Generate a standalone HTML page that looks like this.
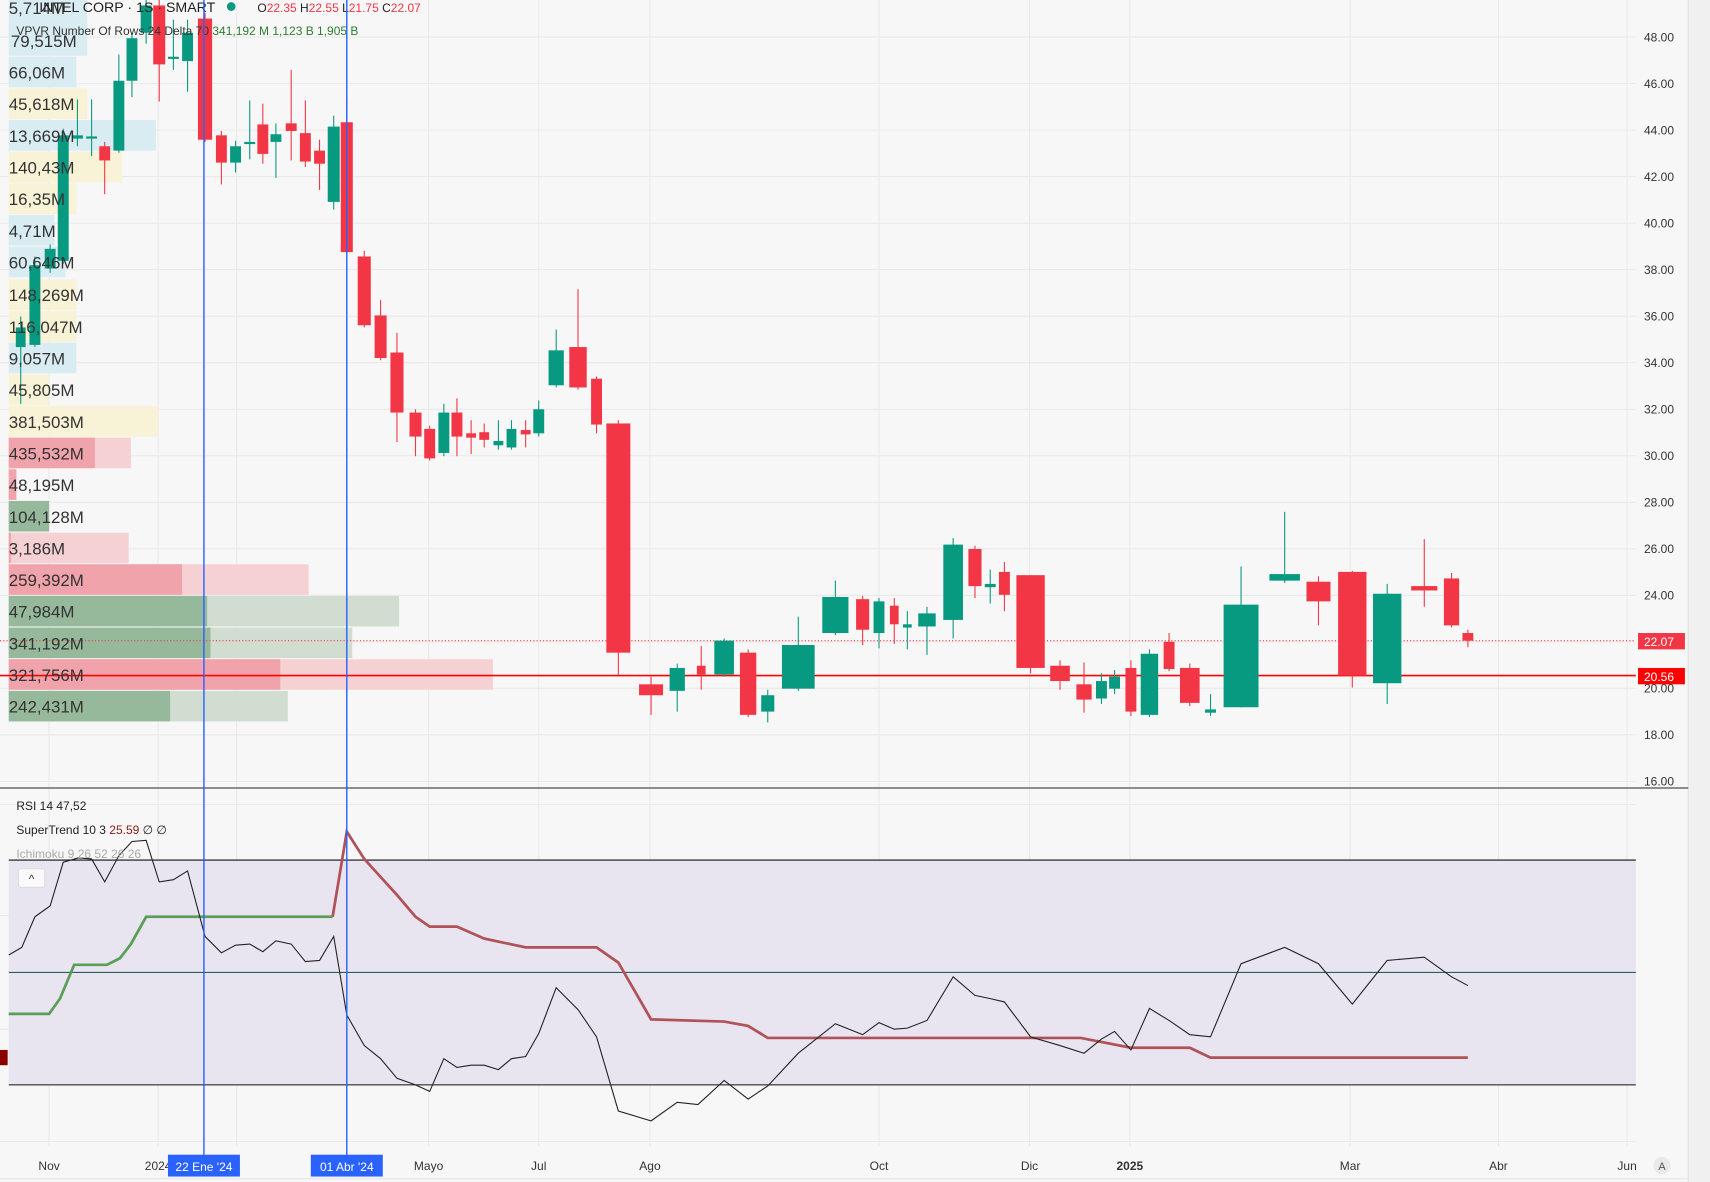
<!DOCTYPE html>
<html><head><meta charset="utf-8"><style>
html,body{margin:0;padding:0;background:#f7f7f7;overflow:hidden}
svg{display:block}
text{font-family:"Liberation Sans",sans-serif}
</style></head><body>
<svg id="s" width="1710" height="1182" viewBox="0 0 1568 1083" preserveAspectRatio="none" xmlns="http://www.w3.org/2000/svg">
<rect width="1568" height="1083" fill="#f7f7f7"/>
<rect x="1548" y="0" width="20" height="1083" fill="#f0f0f0"/>
<line x1="1548" y1="0" x2="1548" y2="1083" stroke="#e0e0e0"/>
<g id="grid" stroke="#e9e9e9" stroke-width="1"></g>
<!-- VPVR -->
<g id="vp"></g>
<!-- price lines -->
<line x1="0" y1="587" x2="1500" y2="587" stroke="#f23645" stroke-dasharray="1,2" stroke-width="1"/>
<line x1="0" y1="619" x2="1500" y2="619" stroke="#ff0000" stroke-width="1.5"/>
<g id="candles"></g>
<!-- vpvr labels -->
<g font-size="15.5" fill="#333">
<text x="8" y="13">5,714M</text>
<text x="10" y="43">79,515M</text>
<text x="8" y="72">66,06M</text>
<text x="8" y="101">45,618M</text>
<text x="8" y="130">13,669M</text>
<text x="8" y="159">140,43M</text>
<text x="8" y="188">16,35M</text>
<text x="8" y="217">4,71M</text>
<text x="8" y="246">60,646M</text>
<text x="8" y="276">148,269M</text>
<text x="8" y="305">116,047M</text>
<text x="8" y="334">9,057M</text>
<text x="8" y="363">45,805M</text>
<text x="8" y="392">381,503M</text>
<text x="8" y="421">435,532M</text>
<text x="8" y="450">48,195M</text>
<text x="8" y="479">104,128M</text>
<text x="8" y="508">3,186M</text>
<text x="8" y="537">259,392M</text>
<text x="8" y="566">47,984M</text>
<text x="8" y="595">341,192M</text>
<text x="8" y="624">321,756M</text>
<text x="8" y="653">242,431M</text>
</g>
<!-- header -->
<text x="36" y="11" font-size="13" fill="#222">INTEL CORP · 1S · SMART</text>
<circle cx="212" cy="6" r="4" fill="#089981"/>
<text x="236" y="11" font-size="11" fill="#222">O<tspan fill="#f23645">22.35</tspan> H<tspan fill="#f23645">22.55</tspan> L<tspan fill="#f23645">21.75</tspan> C<tspan fill="#f23645">22.07</tspan></text>
<text x="15" y="32" font-size="11" fill="#333">VPVR Number Of Rows 24 Delta 70 <tspan fill="#2e7d32">341,192 M  1,123 B  1,905 B</tspan></text>
<!-- price axis -->
<g font-size="11" fill="#333" text-anchor="end" id="pax"></g>
<rect x="1502" y="580" width="43" height="15" fill="#f23645"/>
<text x="1535" y="592" font-size="11" fill="#fff" text-anchor="end">22.07</text>
<rect x="1502" y="612" width="43" height="15" fill="#ff0000"/>
<text x="1535" y="624" font-size="11" fill="#fff" text-anchor="end">20.56</text>
<line x1="0" y1="722" x2="1548" y2="722" stroke="#222" stroke-width="1"/>
<!-- RSI pane -->
<rect x="8" y="788" width="1492" height="206" fill="#e8e5f0"/>
<line x1="8" y1="788" x2="1500" y2="788" stroke="#111"/>
<line x1="8" y1="994" x2="1500" y2="994" stroke="#111"/>
<line x1="8" y1="891" x2="1500" y2="891" stroke="#2a5d60"/>
<rect x="0" y="962" width="7" height="14" fill="#8b0000"/>
<polyline fill="none" stroke="#5a9e5a" stroke-width="2.5" points="8,929 45,929 55,915 68,884 98,884 110,878 120,865 134,840 305,840"/>
<polyline fill="none" stroke="#b05258" stroke-width="2.5" points="305,840 318,762 334,787 364,820 381,840 394,849 419,849 444,860 482,868 547,868 567,882 597,934 664,936 686,940 704,951 991,951 1037,960 1091,960 1110,969 1346,969"/>
<polyline fill="none" stroke="#222" stroke-width="1" points="8,875 20,868 32,840 46,830 58,790 72,786 84,787 96,808 109,784 121,771 134,770 146,808 159,806 172,798 188,858 203,873 216,866 229,865 241,872 253,862 267,865 280,881 293,880 306,858 318,930 334,958 349,970 364,988 381,994 394,1000 407,970 419,978 432,976 444,976 457,980 469,970 482,968 494,947 510,905 530,925 547,950 567,1018 597,1027 621,1010 640,1012 664,990 686,1007 704,995 732,965 766,938 791,948 806,937 820,943 832,942 850,935 874,895 894,912 908,915 921,918 945,950 972,958 994,965 1010,952 1022,945 1037,962 1054,924 1072,935 1091,948 1110,950 1138,883 1178,868 1209,883 1240,920 1272,880 1306,877 1331,895 1346,903"/>
<text x="15" y="742" font-size="11" fill="#222">RSI 14  47,52</text>
<text x="15" y="764" font-size="11" fill="#222">SuperTrend 10 3  <tspan fill="#8b1a1a">25.59</tspan>  ∅  ∅</text>
<text x="15" y="786" font-size="11" fill="#aaa">Ichimoku 9 26 52 26 26</text>
<rect x="17" y="796" width="24" height="17" rx="2" fill="#fafafa" stroke="#ddd"/>
<text x="29" y="809" font-size="11" fill="#333" text-anchor="middle">^</text>
<!-- blue lines -->
<line x1="187" y1="0" x2="187" y2="1060" stroke="#2962ff" stroke-width="1.3"/>
<line x1="318" y1="0" x2="318" y2="1060" stroke="#2962ff" stroke-width="1.3"/>
<!-- time axis -->
<g font-size="11" fill="#333" text-anchor="middle">
<text x="45" y="1072">Nov</text><text x="145" y="1072">2024</text><text x="217" y="1072">b</text>
<text x="393" y="1072">Mayo</text><text x="494" y="1072">Jul</text><text x="596" y="1072">Ago</text>
<text x="806" y="1072">Oct</text><text x="944" y="1072">Dic</text><text x="1036" y="1072" font-weight="bold">2025</text>
<text x="1238" y="1072">Mar</text><text x="1374" y="1072">Abr</text><text x="1492" y="1072">Jun</text>
</g>
<rect x="154" y="1058" width="66" height="20" fill="#2962ff"/>
<text x="187" y="1073" font-size="11" fill="#fff" text-anchor="middle">22 Ene '24</text>
<rect x="285" y="1058" width="66" height="20" fill="#2962ff"/>
<text x="318" y="1073" font-size="11" fill="#fff" text-anchor="middle">01 Abr '24</text>
<circle cx="1524" cy="1068" r="8" fill="#eaeaea"/>
<text x="1524" y="1072" font-size="10" fill="#555" text-anchor="middle">A</text>
<line x1="0" y1="1080" x2="1548" y2="1080" stroke="#e6e6e6"/>
</svg>
<script>
var NS="http://www.w3.org/2000/svg";
function el(p,t,a){var e=document.createElementNS(NS,t);for(var k in a)e.setAttribute(k,a[k]);p.appendChild(e);return e;}
var g=document.getElementById('grid');
for(var p=48;p>=16;p-=2){var y=34+(48-p)*21.31;el(g,'line',{x1:0,y1:y,x2:1500,y2:y});
 var t=el(document.getElementById('pax'),'text',{x:1535,y:y+4});t.textContent=p.toFixed(2);}
[45,145,217,318,393,494,596,806,944,1036,1238,1374,1492].forEach(function(x){el(g,'line',{x1:x,y1:0,x2:x,y2:1050});});
[737,839,943,1046].forEach(function(y){el(g,'line',{x1:0,y1:y,x2:1500,y2:y});});
// VPVR bars: [y, darkEnd, lightEnd, darkColor, lightColor]
var B='#d9ecf1',Y='#f8f2d6',RD='#f0a3ab',RL='#f6d1d4',GD='#97b99b',GL='#d2ddd2';
var vp=[[0,0,80,B,B],[23,0,80,B,B],[52,0,70,B,B],[81,0,80,Y,Y],[110,0,143,B,B],[139,0,112,Y,Y],[168,0,70,Y,Y],[197,0,50,B,B],[226,0,60,B,B],[256,0,70,Y,Y],[285,0,70,Y,Y],[314,0,70,B,B],[343,0,45,Y,Y],[372,0,145,Y,Y],
[401,87,120,RD,RL],[430,15,15,RD,RL],[459,45,45,GD,GL],[488,10,118,RD,RL],[517,167,283,RD,RL],[546,190,366,GD,GL],[575,193,323,GD,GL],[604,257,452,RD,RL],[633,156,264,GD,GL]];
var vg=document.getElementById('vp');
vp.forEach(function(r){el(vg,'rect',{x:8,y:r[0],width:r[2]-8,height:28,fill:r[4]});if(r[1]>8)el(vg,'rect',{x:8,y:r[0],width:r[1]-8,height:28,fill:r[3]});});
// candles [x, bodyTop, bodyBot, wickTop, wickBot, up?, width]
var C=[[19,300,318,290,370,1,9],[32,243,316,235,318,1,10],[46,228,246,224,250,1,10],[58,124,239,118,242,1,10],[71,124,127,91,134,1,10],[84,125,127,91,143,1,10],[96,134,147,130,178,0,10],[109,74,138,50,140,1,10],[121,35,74,30,89,1,10],[134,5,30,0,40,1,10],[146,5,59,0,93,0,11],[159,52,54,18,64,1,10],[172,30,56,18,84,1,10],[188,17,128,12,130,0,13],[203,124,149,120,169,0,10],[216,134,149,129,158,1,10],[229,130,132,92,146,1,10],[241,114,141,95,150,0,10],[253,123,130,113,163,1,10],[267,113,120,64,147,0,10],[280,122,148,92,153,0,10],[293,138,150,128,174,0,10],[306,116,185,106,192,1,11],[318,112,231,90,233,0,11],
[334,235,298,230,300,0,12],[349,289,328,275,330,0,11],[364,323,378,305,405,0,12],[381,378,400,375,418,0,11],[394,393,420,390,422,0,10],[407,378,415,370,418,1,10],[419,378,400,365,418,0,10],[432,397,401,385,416,0,9],[444,396,403,388,410,0,9],[457,404,408,385,412,1,9],[469,393,410,385,412,1,9],[482,394,398,385,410,0,9],[494,375,397,367,400,1,10],[510,321,353,302,355,1,14],[530,318,355,265,357,0,16],[547,347,389,345,397,0,10],[567,388,598,385,620,0,22],
[597,627,637,620,655,0,22],[621,612,633,608,652,1,14],[643,610,618,592,632,0,8],[664,587,618,585,620,1,18],[686,598,655,595,657,0,15],[704,637,652,632,662,1,12],[732,591,631,565,633,1,30],[766,547,580,532,582,1,24],[791,549,577,546,591,0,12],[806,551,580,548,594,1,10],[820,555,572,548,590,0,8],[832,572,575,560,595,1,8],[850,562,574,556,600,1,16],[874,499,568,493,585,1,18],[894,503,537,500,548,0,12],[908,535,538,522,553,1,10],[921,524,545,515,560,0,10],[945,527,612,527,617,0,26],[972,610,624,605,632,0,18],[994,627,641,607,653,0,14],[1010,624,640,617,645,1,10],[1022,620,631,614,636,1,10],[1037,612,652,605,656,0,10],[1054,599,655,595,657,1,16],[1072,588,613,580,615,0,10],[1091,612,644,608,647,0,18],[1110,650,653,636,656,1,10],[1138,554,648,519,648,1,32],[1178,526,532,469,534,1,28],[1209,533,551,528,573,0,22],[1240,524,619,523,630,0,26],[1272,544,626,535,645,1,26],[1306,537,541,494,556,0,24],[1331,530,573,525,575,0,14],[1346,580,587,577,593,0,10]];
var cg=document.getElementById('candles');
C.forEach(function(c){var col=c[5]?'#089981':'#f23645';
 el(cg,'line',{x1:c[0],y1:c[3],x2:c[0],y2:c[4],stroke:col,'stroke-width':1});
 el(cg,'rect',{x:c[0]-c[6]/2,y:c[1],width:c[6],height:Math.max(2,c[2]-c[1]),fill:col});});
</script>
</body></html>
